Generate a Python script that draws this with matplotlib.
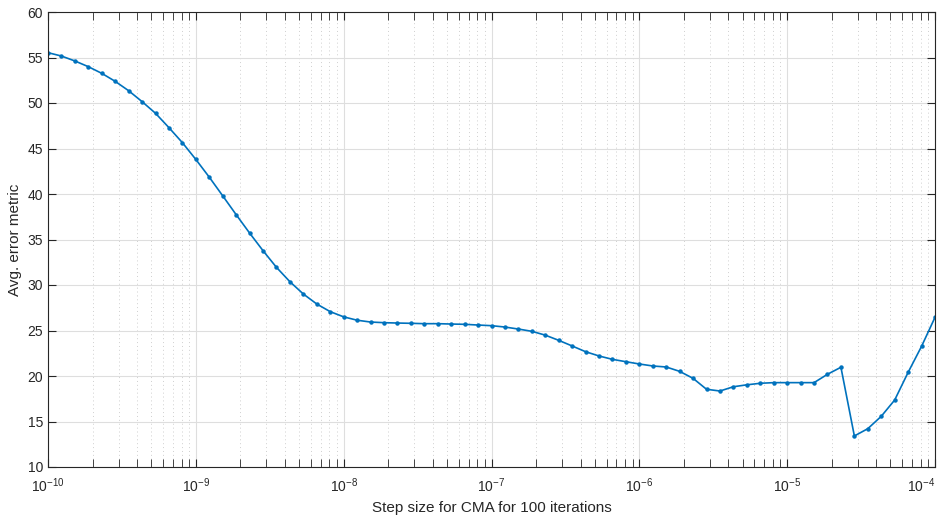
import numpy as np
import matplotlib
matplotlib.use("Agg")
import matplotlib.pyplot as plt
from matplotlib.ticker import LogLocator, MultipleLocator, NullFormatter

plt.rcParams['font.family'] = ['Liberation Sans', 'DejaVu Sans']
plt.rcParams['mathtext.default'] = 'regular'

# step sizes: 11 per decade from 1e-10 to 1e-4
step = np.logspace(-10, -4, 67)
err = [55.53, 55.16, 54.62, 53.99, 53.26, 52.38, 51.35, 50.15, 48.87, 47.29,
       45.64, 43.80, 41.85, 39.80, 37.73, 35.71, 33.77, 31.94, 30.36, 29.01,
       27.91, 27.07, 26.50, 26.13, 25.93, 25.86, 25.82, 25.79, 25.75, 25.75,
       25.71, 25.68, 25.60, 25.53, 25.38, 25.16, 24.91, 24.49, 23.92, 23.30,
       22.67, 22.20, 21.83, 21.57, 21.32, 21.10, 20.99, 20.51, 19.74, 18.54,
       18.35, 18.82, 19.03, 19.20, 19.27, 19.27, 19.27, 19.27, 20.19, 20.96,
       13.41, 14.21, 15.57, 17.36, 20.40, 23.26, 26.45]

x_exps = [-10, -9, -8, -7, -6, -5, -4]
xlabel = 'Step size for CMA for 100 iterations'
ylabel = 'Avg. error metric'

fig = plt.figure(figsize=(9.46, 5.18), dpi=100)
ax = fig.add_axes([48/946, 1-467/518, (935-48)/946, (467-12)/518])

ax.plot(step, err, color='#0072BD', lw=1.2, marker='o', ms=2.2)
ax.set_xscale('log')
ax.set_xlim(1e-10, 1e-4)
ax.set_ylim(10, 60)
ax.yaxis.set_major_locator(MultipleLocator(5))
ax.set_xticks([10.0**e for e in x_exps], ['$10^{%d}$' % e for e in x_exps])
ax.xaxis.set_minor_locator(LogLocator(base=10, subs=np.arange(2, 10), numticks=20))
ax.xaxis.set_minor_formatter(NullFormatter())
ax.get_xticklabels()[-1].set_horizontalalignment('right')

ax.grid(True, which='major', color='#dedede', lw=0.8)
ax.grid(True, which='minor', axis='x', color='#cfcfcf', lw=0.7, ls=(0, (1, 3)))
ax.set_axisbelow(True)

tc = '#262626'
for s in ax.spines.values():
    s.set_color(tc)
    s.set_linewidth(0.8)
ax.tick_params(which='both', direction='in', top=True, right=True, colors=tc,
               labelsize=10, length=5.5)
ax.tick_params(axis='x', which='major', pad=7)

ax.set_xlabel(xlabel, fontsize=11, color=tc, labelpad=4)
ax.set_ylabel(ylabel, fontsize=11, color=tc, labelpad=4)

fig.savefig('out.png', dpi=100)
